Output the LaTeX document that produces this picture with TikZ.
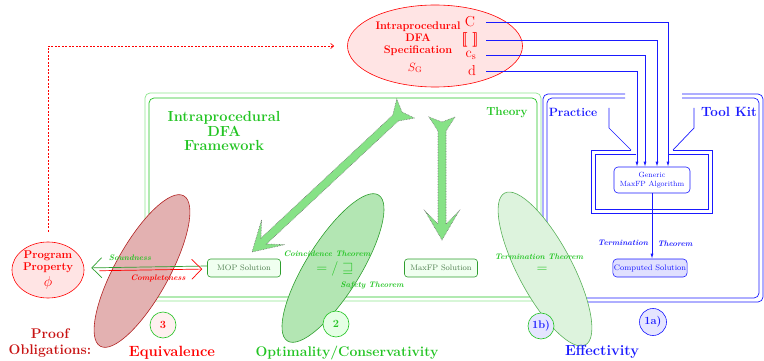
\documentclass[tikz,border=0pt]{standalone}
\usepackage{amsmath,amssymb}
\usepackage{tikz}
\usetikzlibrary{arrows.meta,calc,positioning,shapes.geometric}
\definecolor{thgreen}{HTML}{22C422}
\definecolor{lightgreen}{HTML}{8EE68E}
\definecolor{dkgreen}{HTML}{2E9E2E}
\definecolor{solgreen}{HTML}{4E7E4E}
\definecolor{optfill}{HTML}{B3E6B3}
\definecolor{effill}{HTML}{DDF3DD}
\definecolor{fatfill}{HTML}{86E286}
\definecolor{eqfill}{HTML}{E3B1B1}
\definecolor{eqdraw}{HTML}{B22222}
\definecolor{specfill}{HTML}{FFE4E4}
\definecolor{tkblue}{HTML}{1A1AFF}
\definecolor{proofred}{HTML}{C81414}

% fat dotted arrow with forked tail: #1 = tail notch, #2 = tip
\newcommand\fatarrow[2]{%
  \coordinate (fa-b) at ($(#1)!-5pt!(#2)$);
  \coordinate (fa-s) at ($(#1)!9pt!(#2)$);
  \coordinate (fa-j) at ($(#2)!16pt!(#1)$);
  \coordinate (fa-h) at ($(#2)!29pt!(#1)$);
  \draw[fatarr] ($(fa-b)!13pt!90:(#2)$) -- ($(fa-s)!4pt!90:(#2)$)
    -- ($(fa-j)!4pt!90:(#2)$) -- ($(fa-h)!17pt!90:(#2)$) -- (#2)
    -- ($(fa-h)!17pt!-90:(#2)$) -- ($(fa-j)!4pt!-90:(#2)$)
    -- ($(fa-s)!4pt!-90:(#2)$) -- ($(fa-b)!13pt!-90:(#2)$) -- (#1) -- cycle;}
\newcommand\fsz[1]{\fontsize{#1}{1.2\dimexpr#1pt\relax}\selectfont}

\begin{document}
\begin{tikzpicture}[x=1pt, y=-1pt,
  frame/.style   = {line width=0.7pt, rounded corners=5pt},
  tilt/.style    = {ellipse, line width=0.6pt, minimum width=172pt,
                    minimum height=54pt, inner sep=0pt},
  fatarr/.style  = {fill=fatfill, draw=black!55, densely dotted, line width=0.6pt},
  solbox/.style  = {draw=dkgreen, fill=green!6, rounded corners=3pt, text=solgreen,
                    font=\footnotesize, minimum width=73pt, minimum height=18pt,
                    inner sep=1pt, line width=0.6pt},
  algbox/.style  = {draw=tkblue, fill=#1, rounded corners=4pt, text=tkblue,
                    font=\footnotesize, align=center, inner sep=1pt, line width=0.6pt},
  thm/.style     = {font=\footnotesize\bfseries\itshape, text=#1, inner sep=1pt},
  numc/.style    = {circle, draw=#1, line width=0.6pt, minimum size=26pt,
                    inner sep=0pt, font=\bfseries\fsz{11}},
  item/.style    = {text=red, font=\Large, inner sep=0pt},
  feed/.style    = {tkblue, line width=0.8pt, -{Latex[length=5pt,width=3pt]}},
  chev/.style    = {line width=0.7pt, -{Straight Barb[length=10pt,width=20pt]}},
  oblig/.style   = {font=\bfseries\fsz{14}, align=center},
]
\useasboundingbox (0,0) rectangle (764,361);

% theory and practice frames
\draw[frame, lightgreen] (145,93) rectangle (541,301);
\draw[frame, thgreen] (149,98) rectangle (537,297);
\draw[frame, tkblue] (625,94) -- (543,94) -- (543,302) -- (763,302) -- (763,94) -- (682,94);
\draw[frame, tkblue] (625,98) -- (547,98) -- (547,298) -- (759,298) -- (759,98) -- (682,98);

% proof obligation ellipses
\node[tilt, draw=eqdraw, fill=eqfill, rotate=61] (eqv) at (142,271) {};
\node[tilt, draw=dkgreen, fill=optfill, rotate=58] (opt) at (333,268) {};
\node[tilt, draw=dkgreen!80, fill=effill, rotate=118] (eff) at (545,269) {};

% specification
\node[ellipse, draw=red, fill=specfill, minimum width=175pt, minimum height=82pt,
      line width=0.6pt] (spec) at (435,46) {};
\node[font=\bfseries\fsz{11}, text=red, align=center] (spectitle) at (418,39)
  {Intraprocedural\\[-1pt]DFA\\[-1pt]Specification};
\node[text=red, font=\large] (specSG) at (415,68) {$S_{\mathrm{G}}$};
\node[item] (itC) at (470,22) {C};
\node[item] (itS) at (470,40) {$\boldsymbol{[\![\;]\!]}$};
\node[item] (itCs) at (471,55) {c$_{\mathrm{s}}$};
\node[item] (itD) at (472,71) {d};
\coordinate (feedx) at (486,0);

% tool kit
\node[font=\bfseries\fsz{12}, text=tkblue] (practice) at (573,112) {Practice};
\node[font=\bfseries\fsz{13.4}, text=tkblue] (toolkit) at (729,112) {Tool Kit};
\draw[tkblue, line width=0.7pt] (609,108) -- (609,128) -- (631,150);
\draw[tkblue, line width=0.7pt] (694,108) -- (694,128) -- (673,150);
\draw[tkblue, line width=0.7pt] (631,150) -- (591,150) -- (591,213) -- (712,213) -- (712,150) -- (673,150);
\draw[tkblue, line width=0.7pt] (636,154) -- (595,154) -- (595,209) -- (708,209) -- (708,154) -- (668,154);
\node[algbox=white, minimum width=76pt, minimum height=26pt, font=\fsz{7.5}] (gen) at (652,180)
  {Generic\\MaxFP Algorithm};
\node[algbox=blue!12, minimum width=74pt, minimum height=18pt] (comp) at (650,268)
  {Computed Solution};
\draw[feed] (itC -| feedx) -| ([xshift=16pt]gen.north);
\draw[feed] (itS -| feedx) -| ([xshift=5pt]gen.north);
\draw[feed] (itCs -| feedx) -| ([xshift=-7pt]gen.north);
\draw[feed] (itD -| feedx) -| ([xshift=-15pt]gen.north);
\draw[feed] (gen.south) -- (gen.south |- comp.north);
\node[thm=tkblue] (termL) at (623,243) {Termination};
\node[thm=tkblue] (termR) at (675,244) {Theorem};

% framework
\node[oblig, font=\bfseries\fsz{14.6}, text=thgreen] (fwk) at (224,131)
  {Intraprocedural\\[-3pt]DFA\\[-3pt]Framework};
\node[font=\bfseries\fsz{11.7}, text=thgreen] (theory) at (507,113) {Theory};
\coordinate (fa1t) at (402,112);
\coordinate (fa1h) at (252,252);
\fatarrow{fa1t}{fa1h}
\coordinate (fa2t) at (442,122);
\coordinate (fa2h) at (442,240);
\fatarrow{fa2t}{fa2h}
\node[solbox] (mop) at (244,268) {MOP Solution};
\node[solbox] (maxfp) at (441,268) {MaxFP Solution};
\node[text=thgreen, font=\Large] (coinc) at (335,269) {$=/\sqsupseteq$};
\node[text=thgreen, font=\Large] (termeq) at (542,270) {$=$};
\node[thm=thgreen] (coincthm) at (327,254) {Coincidence Theorem};
\node[thm=thgreen] (safethm) at (372,285) {Safety Theorem};
\node[thm=thgreen] (termthm) at (539,257) {Termination Theorem};

% program property
\node[ellipse, draw=red, fill=specfill, minimum width=72pt, minimum height=56pt,
      inner sep=0pt, line width=0.6pt, font=\bfseries\fsz{11.3}, text=red, align=center]
  (prop) at (48,270) {Program\\[-2pt]Property\\[2pt]{\Large$\phi$}};
\draw[red, dash pattern=on 2pt off 1.5pt, line width=0.7pt,
      -{Straight Barb[length=3pt,width=5pt]}, shorten <=10pt, shorten >=13pt]
  (prop.north) |- (spec.west);
\draw[chev, dkgreen, shorten >=7pt] ([yshift=2pt]mop.west) -- ([yshift=2pt]prop.east);
\draw[chev, red, shorten <=15pt, shorten >=5pt] ([yshift=-1pt]prop.east) -- ([yshift=-1pt]mop.west);
\node[thm=thgreen] (sound) at (130,258) {Soundness};
\node[thm=red] (compl) at (158,278) {Completeness};

% numbered obligations
\node[numc=thgreen, fill=red!6, text=red] (n3) at (163,325) {3};
\node[numc=thgreen, fill=green!10, text=thgreen] (n2) at (336,324) {2};
\node[numc=thgreen, fill=blue!10, text=tkblue] (n1b) at (541,326) {1b)};
\node[numc=tkblue, fill=blue!10, text=tkblue, minimum size=27pt] (n1a) at (653,322) {1a)};
\node[oblig, text=proofred] (proof) at (50,343) {Proof\\[-1pt]Obligations:};
\node[oblig, font=\bfseries\fsz{14.8}, text=red] (equiv) at (172,353) {Equivalence};
\node[oblig, text=thgreen] (optim) at (347,353) {Optimality/Conservativity};
\node[oblig, font=\bfseries\fsz{14.6}, text=tkblue] (effect) at (602,352) {Effectivity};
\end{tikzpicture}
\end{document}
